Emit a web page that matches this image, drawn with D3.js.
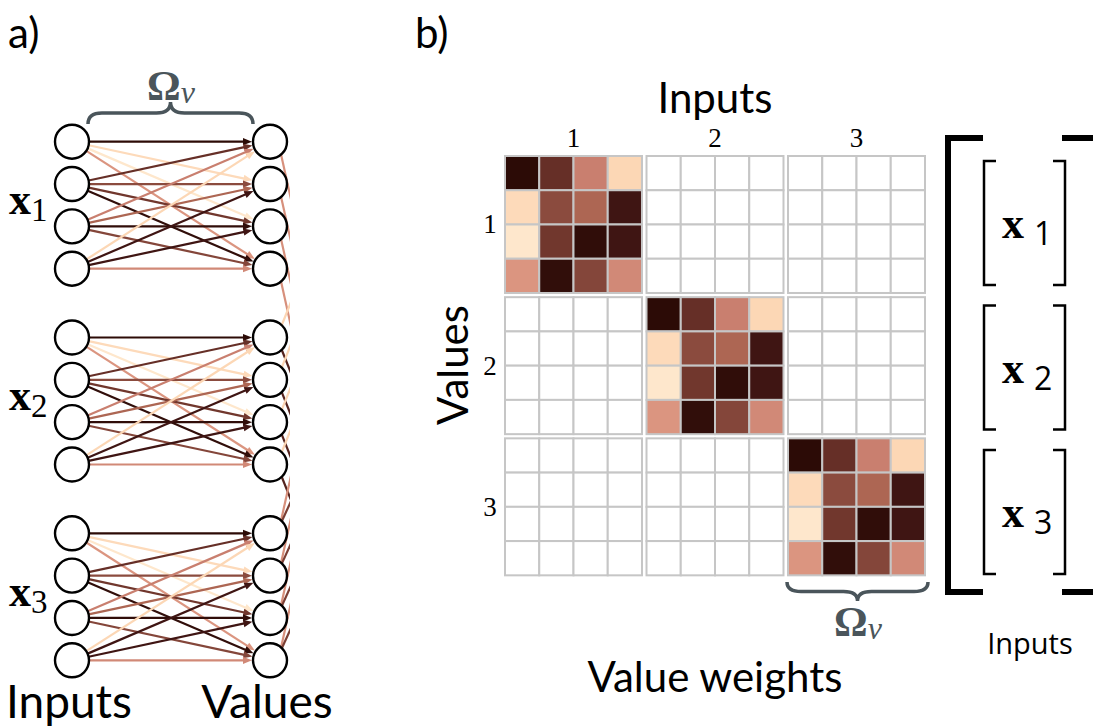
<!DOCTYPE html>
<html>
<head>
<meta charset="utf-8">
<script src="https://cdn.jsdelivr.net/npm/d3@7"></script>
<style>
  body { margin: 0; background: #fff; }
  svg { display: block; }
</style>
</head>
<body>
<svg id="chart" width="1093" height="728"></svg>
<script>
// value weights: rows = values (outputs), columns = inputs
const weights = [
  [1.00, 0.76, 0.45, 0.19],
  [0.15, 0.65, 0.55, 0.86],
  [0.00, 0.73, 0.97, 0.86],
  [0.36, 0.96, 0.67, 0.41]
];
const groups = ["1", "2", "3"];
const units = [0, 1, 2, 3];
const layers = ["Inputs", "Values"];

// colour map (cream -> salmon -> dark brown)
const colorStops = [0, 0.2, 0.35, 0.45, 0.55, 0.65, 0.75, 0.85, 1];
const colorRange = ["#fee7cc", "#fcd6b4", "#dd9782", "#c97f6f", "#ad6653", "#8b4b3e", "#6a3229", "#401614", "#2c0b06"];

// edges leaving the value nodes towards the next (cut off) layer: [slope, weight]
const tailEdges = {
  "1": [[4.5, 0.38]],
  "2": [[-2.5, 0.2], [2.5, 0.8]],
  "3": [[-4.5, 0.38], [-2.2, 0.7]]
};

const svg = d3.select("#chart");
const color = d3.scaleLinear().domain(colorStops).range(colorRange);

const sans = "Lato, 'Open Sans', sans-serif";
const serif = "'Liberation Serif', 'DejaVu Serif', serif";

// ---------------- panel a) ----------------
const r = 17;
const nodeX = d3.scalePoint().domain(layers).range([72, 270]);
const groupY = d3.scalePoint().domain(groups).range([141.7, 533.3]);
const unitY = d3.scalePoint().domain(units).range([0, 127]);

const a = svg.append("g");

// tails on the right side, clipped at the panel edge
a.append("clipPath").attr("id", "tailclip")
  .append("rect").attr("x", 0).attr("y", 0).attr("width", 290).attr("height", 728);

const tails = a.append("g").attr("clip-path", "url(#tailclip)");
groups.forEach(g => {
  units.forEach(j => {
    const x0 = nodeX("Values") + 10, y0 = groupY(g) + unitY(j);
    tailEdges[g].forEach(t => {
      tails.append("line")
        .attr("x1", x0).attr("y1", y0 + Math.sign(t[0]) * 8)
        .attr("x2", x0 + 40).attr("y2", y0 + Math.sign(t[0]) * 8 + t[0] * 40)
        .attr("stroke", color(t[1]))
        .attr("stroke-width", 2.2);
    });
  });
});

// edges with arrowheads
const edges = [];
groups.forEach(g => {
  units.forEach(i => {
    units.forEach(j => {
      edges.push({ g: g, i: i, j: j, w: weights[j][i] });
    });
  });
});

const edgeG = a.append("g");
edges.forEach(e => {
  const x0 = nodeX("Inputs"), y0 = groupY(e.g) + unitY(e.i);
  const x1 = nodeX("Values"), y1 = groupY(e.g) + unitY(e.j);
  const dx = x1 - x0, dy = y1 - y0, len = Math.hypot(dx, dy);
  const ux = dx / len, uy = dy / len;
  const sx = x0 + ux * r, sy = y0 + uy * r;
  const tx = x1 - ux * (r + 1), ty = y1 - uy * (r + 1);
  const hl = 9, hw = 3.6;
  const bx = tx - ux * hl, by = ty - uy * hl;
  const c = color(e.w);
  edgeG.append("line")
    .attr("x1", sx).attr("y1", sy)
    .attr("x2", bx + ux * 2).attr("y2", by + uy * 2)
    .attr("stroke", c).attr("stroke-width", 2.2);
  edgeG.append("path")
    .attr("d", `M${tx},${ty}L${bx - uy * hw},${by + ux * hw}L${bx + uy * hw},${by - ux * hw}Z`)
    .attr("fill", c);
});

// nodes
layers.forEach(l => {
  groups.forEach(g => {
    a.selectAll(null).data(units).enter().append("circle")
      .attr("cx", nodeX(l))
      .attr("cy", d => groupY(g) + unitY(d))
      .attr("r", r)
      .attr("fill", "#fff")
      .attr("stroke", "#000")
      .attr("stroke-width", 2.4);
  });
});

// x_i labels
groups.forEach(g => {
  const t = a.append("text")
    .attr("x", 9)
    .attr("y", groupY(g) + unitY(2) - 12)
    .attr("font-family", serif);
  t.append("tspan").attr("font-weight", "bold").attr("font-size", 44).text("x");
  t.append("tspan").attr("font-size", 33).attr("dy", 7).text(g);
});

// brace helper
function brace(x1, x2, yEnd, yTip, k) {
  const mid = (x1 + x2) / 2, ym = (yEnd + yTip) / 2;
  return `M${x1},${yEnd}Q${x1},${ym} ${x1 + k},${ym}L${mid - k},${ym}Q${mid},${ym} ${mid},${yTip}` +
         `Q${mid},${ym} ${mid + k},${ym}L${x2 - k},${ym}Q${x2},${ym} ${x2},${yEnd}`;
}

const braceColor = "#4a555b";
a.append("path")
  .attr("d", brace(88, 253, 124, 102, 14))
  .attr("fill", "none").attr("stroke", braceColor).attr("stroke-width", 3.5);

function omega(sel, x, y) {
  const t = sel.append("text").attr("x", x).attr("y", y)
    .attr("text-anchor", "middle").attr("font-family", serif).attr("fill", braceColor);
  t.append("tspan").attr("font-weight", "bold").attr("font-size", 42).text("Ω");
  t.append("tspan").attr("font-style", "italic").attr("font-size", 32).attr("dy", 3).text("v");
}
omega(a, 171, 100);

a.append("text").attr("x", 8).attr("y", 48)
  .attr("font-family", sans).attr("font-size", 42).text("a)");
a.selectAll(null).data(layers).enter().append("text")
  .attr("x", d => nodeX(d) - 3)
  .attr("y", 718)
  .attr("text-anchor", "middle")
  .attr("font-family", sans).attr("font-size", 46)
  .text(d => d);

// ---------------- panel b) ----------------
const b = svg.append("g");
const blockX = d3.scaleBand().domain(groups).range([505, 925]).paddingInner(0.032);
const blockY = d3.scaleBand().domain(groups).range([156, 575]).paddingInner(0.032);
const cell = d3.scaleBand().domain(units).range([0, blockX.bandwidth()]);

const cells = [];
groups.forEach(rg => {
  groups.forEach(cg => {
    units.forEach(j => {
      units.forEach(i => {
        cells.push({ rg: rg, cg: cg, j: j, i: i, w: rg === cg ? weights[j][i] : null });
      });
    });
  });
});

b.selectAll("rect.cell").data(cells).enter().append("rect")
  .attr("class", "cell")
  .attr("x", d => blockX(d.cg) + cell(d.i))
  .attr("y", d => blockY(d.rg) + cell(d.j))
  .attr("width", cell.bandwidth())
  .attr("height", cell.bandwidth())
  .attr("fill", d => d.w === null ? "#fff" : color(d.w))
  .attr("stroke", "#c6c6c6")
  .attr("stroke-width", 2);

// block numbers
b.selectAll("text.colnum").data(groups).enter().append("text")
  .attr("class", "colnum")
  .attr("x", d => blockX(d) + blockX.bandwidth() / 2)
  .attr("y", 147)
  .attr("text-anchor", "middle")
  .attr("font-family", serif).attr("font-size", 27)
  .text(d => d);
b.selectAll("text.rownum").data(groups).enter().append("text")
  .attr("class", "rownum")
  .attr("x", 490)
  .attr("y", d => blockY(d) + blockY.bandwidth() / 2 + 9)
  .attr("text-anchor", "middle")
  .attr("font-family", serif).attr("font-size", 27)
  .text(d => d);

b.append("text").attr("x", 415).attr("y", 48)
  .attr("font-family", sans).attr("font-size", 42).text("b)");
b.append("text").attr("x", 715).attr("y", 113)
  .attr("text-anchor", "middle")
  .attr("font-family", sans).attr("font-size", 42).text("Inputs");
b.append("text")
  .attr("transform", "translate(468,365) rotate(-90)")
  .attr("text-anchor", "middle")
  .attr("font-family", sans).attr("font-size", 42).text("Values");
b.append("text").attr("x", 715).attr("y", 692)
  .attr("text-anchor", "middle")
  .attr("font-family", sans).attr("font-size", 42).text("Value weights");

// brace under last block
b.append("path")
  .attr("d", brace(blockX("3") - 1, blockX("3") + blockX.bandwidth() + 3, 582, 601, 14))
  .attr("fill", "none").attr("stroke", braceColor).attr("stroke-width", 3.5);
omega(b, 858, 636);

// big bracket around input vector
b.append("path")
  .attr("d", "M983,138H948V592H983")
  .attr("fill", "none").attr("stroke", "#000").attr("stroke-width", 6);
b.append("path")
  .attr("d", "M1062,138H1097V592H1062")
  .attr("fill", "none").attr("stroke", "#000").attr("stroke-width", 6);

const brY = d3.scaleBand().domain(groups).range([161, 574]).paddingInner(0.142);
groups.forEach(g => {
  const y0 = brY(g), y1 = y0 + brY.bandwidth();
  b.append("path")
    .attr("d", `M996,${y0}H984V${y1}H996`)
    .attr("fill", "none").attr("stroke", "#000").attr("stroke-width", 2.5);
  b.append("path")
    .attr("d", `M1053,${y0}H1065V${y1}H1053`)
    .attr("fill", "none").attr("stroke", "#000").attr("stroke-width", 2.5);
  const t = b.append("text").attr("x", 1002).attr("y", (y0 + y1) / 2 + 15);
  t.append("tspan").attr("font-family", serif).attr("font-weight", "bold").attr("font-size", 44).text("x");
  t.append("tspan").attr("font-family", "'Open Sans', sans-serif").attr("font-size", 32)
    .attr("dx", 10).attr("dy", 7).text(g);
});

b.append("text").attr("x", 1030).attr("y", 654)
  .attr("text-anchor", "middle")
  .attr("font-family", "'Open Sans', sans-serif").attr("font-size", 29).text("Inputs");
</script>
</body>
</html>
